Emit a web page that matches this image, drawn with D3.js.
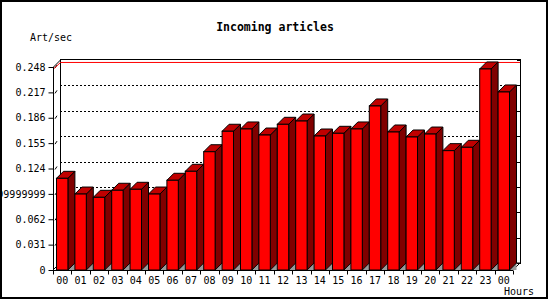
<!DOCTYPE html>
<html lang="en">
<head>
  <meta charset="UTF-8">
  <title>Incoming articles</title>
  <script src="https://d3js.org/d3.v7.min.js"></script>
  <style>
    body { margin: 0; background: #fff; }
    text { font-family: "DejaVu Sans Mono", monospace; fill: #000; }
  </style>
</head>
<body>
  <script>
    // 1. Data
    const hours = ["00","01","02","03","04","05","06","07","08","09","10","11",
                   "12","13","14","15","16","17","18","19","20","21","22","23","00"];
    const values = [0.112, 0.0928, 0.0888, 0.0974, 0.0986, 0.0928, 0.1096, 0.1206,
                    0.1445, 0.1695, 0.1723, 0.1649, 0.178, 0.182, 0.1637, 0.167,
                    0.1723, 0.2004, 0.1686, 0.1625, 0.1661, 0.1458, 0.1499, 0.2456, 0.2175];
    const yTicks = [0, 0.031, 0.062, 0.093, 0.124, 0.155, 0.186, 0.217, 0.248];
    const yTickLabels = ["0", "0.031", "0.062", "0.0929999999999999", "0.124",
                         "0.155", "0.186", "0.217", "0.248"];

    // 2. SVG canvas
    const width = 550, height = 300;
    const pLeft = 53, pRight = 513, pTop = 67, pBottom = 270;
    const depth = 7;

    const svg = d3.select("body").append("svg")
      .attr("width", width)
      .attr("height", height);

    svg.append("rect")
      .attr("x", 1).attr("y", 1)
      .attr("width", 546).attr("height", 297)
      .attr("fill", "#fff")
      .attr("stroke", "#000")
      .attr("stroke-width", 2);

    // 3. Scales
    const x = d3.scaleBand()
      .domain(d3.range(hours.length))
      .range([pLeft, pRight])
      .paddingInner(0)
      .paddingOuter(0);

    const y = d3.scaleLinear()
      .domain([0, 0.248])
      .range([pBottom, pTop]);

    const barW = x.step() * 0.62;
    const barOff = (x.step() - barW) / 2;

    // 4. Back frame and grid
    const back = svg.append("g").attr("shape-rendering", "crispEdges");

    back.selectAll("line.grid")
      .data(yTicks.slice(1, -1))
      .enter().append("line")
      .attr("x1", pLeft + depth).attr("x2", pRight + depth)
      .attr("y1", d => y(d) - depth + 0.5).attr("y2", d => y(d) - depth + 0.5)
      .attr("stroke", "#000")
      .attr("stroke-dasharray", "2,2");

    back.selectAll("line.rtick")
      .data(yTicks)
      .enter().append("line")
      .attr("x1", pRight + depth - 3).attr("x2", pRight + depth)
      .attr("y1", d => y(d) - depth + 0.5).attr("y2", d => y(d) - depth + 0.5)
      .attr("stroke", "#000");

    const frame = svg.append("g").attr("fill", "none").attr("stroke", "#000");
    frame.append("path")
      .attr("d", `M${pLeft + depth + 0.5},${pBottom - depth} V${pTop - depth - 0.5} H${pRight + depth + 0.5} V${pBottom - depth + 0.5}`)
      .attr("shape-rendering", "crispEdges");
    frame.append("path")
      .attr("d", `M${pLeft + 0.5},${pTop} L${pLeft + depth + 0.5},${pTop - depth}`);

    // small slanted ticks between front axis and back wall
    frame.selectAll("line.slant")
      .data(yTicks.slice(1))
      .enter().append("line")
      .attr("x1", pLeft + 2).attr("y1", d => y(d) + 1)
      .attr("x2", pLeft + 4).attr("y2", d => y(d) - 2);

    // red line at the maximum value
    const maxV = d3.max(values);
    svg.append("path")
      .attr("d", `M${pLeft + 0.5},${y(maxV)} L${pLeft + depth + 0.5},${y(maxV) - depth + 0.5} H${pRight + depth}`)
      .attr("fill", "none")
      .attr("stroke", "#ff0000");

    // floor edges
    frame.append("path")
      .attr("d", `M${pLeft},${pBottom} L${pLeft + depth},${pBottom - depth} H${pRight + depth} L${pRight},${pBottom}`);

    // 5. Bars
    const bars = svg.append("g")
      .attr("stroke", "#000")
      .attr("stroke-linejoin", "miter");

    const g = bars.selectAll("g.bar")
      .data(values)
      .enter().append("g");

    const x0 = (d, i) => x(i) + barOff;
    const x1 = (d, i) => x(i) + barOff + barW;

    g.append("path")
      .attr("fill", "#999999")
      .attr("stroke", "none")
      .attr("d", (d, i) => `M${x1(d, i)},${pBottom} L${x1(d, i) + depth},${pBottom - depth} V${pBottom} Z`);

    g.append("path")
      .attr("fill", "#800000")
      .attr("d", (d, i) => `M${x1(d, i)},${y(d)} L${x1(d, i) + depth},${y(d) - depth} V${pBottom - depth} L${x1(d, i)},${pBottom} Z`);

    g.append("path")
      .attr("fill", "#c00000")
      .attr("d", (d, i) => `M${x0(d, i)},${y(d)} L${x0(d, i) + depth},${y(d) - depth} H${x1(d, i) + depth} L${x1(d, i)},${y(d)} Z`);

    g.append("rect")
      .attr("fill", "#ff0000")
      .attr("x", (d, i) => x0(d, i))
      .attr("y", d => y(d))
      .attr("width", barW)
      .attr("height", d => pBottom - y(d));

    // 6. Axes
    const yAxis = svg.append("g")
      .attr("transform", `translate(${pLeft + 0.5},0)`)
      .call(d3.axisLeft(y)
        .tickValues(yTicks)
        .tickFormat((d, i) => yTickLabels[i])
        .tickSize(5)
        .tickSizeOuter(0)
        .tickPadding(3));
    yAxis.select(".domain").attr("d", `M0,${pTop}V${pBottom}`);
    yAxis.selectAll("text").style("font-size", "10px").style("font-family", "DejaVu Sans Mono");

    const xAxis = svg.append("g")
      .attr("transform", `translate(0,${pBottom + 0.5})`)
      .call(d3.axisBottom(x)
        .tickFormat(i => hours[i])
        .tickSize(0)
        .tickPadding(6));
    xAxis.select(".domain").attr("d", `M${pLeft},0H${pRight}`);
    xAxis.selectAll("text").style("font-size", "10px").style("font-family", "DejaVu Sans Mono");

    xAxis.selectAll("line.bound")
      .data(d3.range(hours.length + 1))
      .enter().append("line")
      .attr("x1", i => Math.round(pLeft + i * x.step()) + 0.5)
      .attr("x2", i => Math.round(pLeft + i * x.step()) + 0.5)
      .attr("y1", 0).attr("y2", 4)
      .attr("stroke", "#000");

    // 7. Titles
    svg.append("text")
      .attr("x", 275).attr("y", 31)
      .attr("text-anchor", "middle")
      .style("font-size", "11.5px")
      .style("font-weight", "bold")
      .text("Incoming articles");

    svg.append("text")
      .attr("x", 30).attr("y", 41)
      .style("font-size", "10px")
      .text("Art/sec");

    svg.append("text")
      .attr("x", 534).attr("y", 295)
      .attr("text-anchor", "end")
      .style("font-size", "10px")
      .text("Hours");
  </script>
</body>
</html>
